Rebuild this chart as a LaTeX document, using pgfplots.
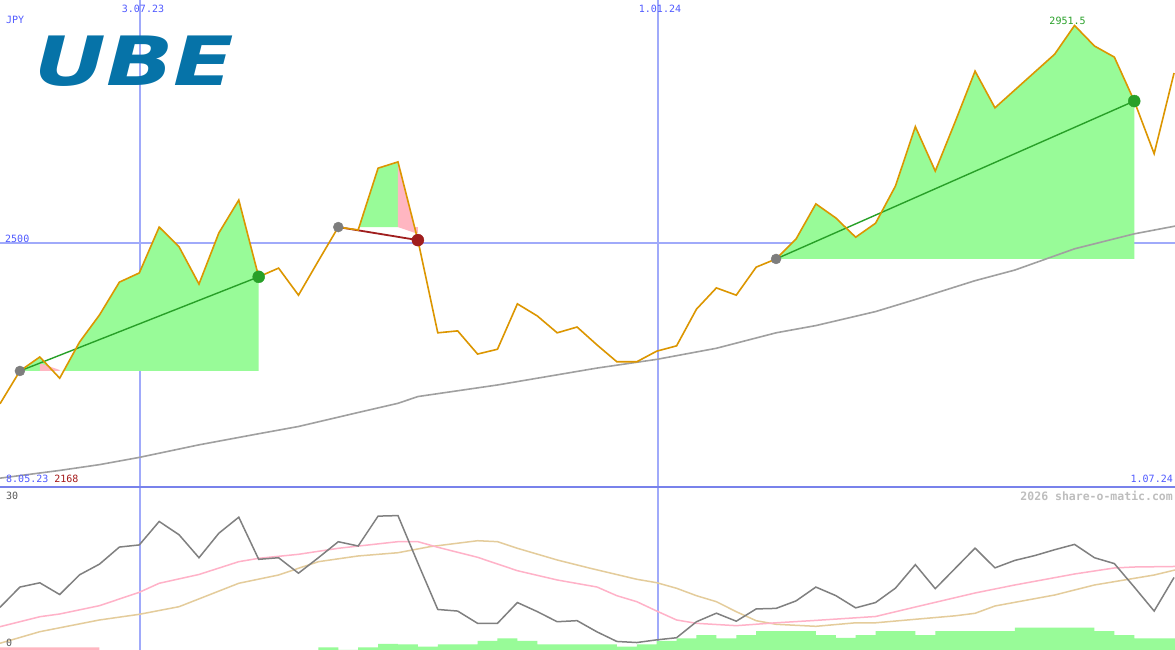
\documentclass[border=0pt]{standalone}
\usepackage{fontspec}
\setmonofont{DejaVu Sans Mono}
\newfontfamily\logofont{DejaVu Sans}
\usepackage{graphicx}
\usepackage{pgfplots}
\pgfplotsset{compat=1.18}

\definecolor{priceline}{RGB}{220,150,0}
\definecolor{maline}{RGB}{160,160,160}
\definecolor{winfill}{RGB}{152,251,152}
\definecolor{lossfill}{RGB}{255,182,193}
\definecolor{gridblue}{RGB}{160,170,250}
\definecolor{sepblue}{RGB}{120,130,235}
\definecolor{labelblue}{RGB}{80,90,255}
\definecolor{lowred}{RGB}{165,25,25}
\definecolor{tradegreen}{RGB}{40,160,40}
\definecolor{tradered}{RGB}{160,30,30}
\definecolor{dotgrey}{RGB}{125,125,125}
\definecolor{oscgrey}{RGB}{128,128,128}
\definecolor{oscpink}{RGB}{255,178,200}
\definecolor{osctan}{RGB}{228,204,155}
\definecolor{logoblue}{RGB}{6,115,168}
\definecolor{footgrey}{RGB}{190,190,190}

% weekly closes, week 0 = first point at the left edge
\pgfplotstableread{
w price
0 2168
1 2236
2 2265
3 2221
4 2296
5 2352
6 2420
7 2439
8 2534
9 2493
10 2416
11 2522
12 2590
13 2431
14 2449
15 2393
16 2464
17 2534
18 2528
19 2656
20 2669
21 2507
22 2315
23 2319
24 2271
25 2281
26 2375
27 2350
28 2315
29 2327
30 2290
31 2255
32 2255
33 2277
34 2288
35 2364
36 2408
37 2393
38 2451
39 2468
40 2509
41 2582
42 2553
43 2513
44 2542
45 2619
46 2742
47 2650
48 2752
49 2857
50 2781
51 2818
52 2855
53 2892
54 2951.5
55 2909
56 2886
57 2795
58 2686
59 2853
}\price

\pgfplotstableread{
w osc
0 8.0
1 11.8
2 12.6
3 10.4
4 14.1
5 16.1
6 19.3
7 19.7
8 24.1
9 21.6
10 17.3
11 21.9
12 24.9
13 17.0
14 17.3
15 14.4
16 17.3
17 20.3
18 19.5
19 25.1
20 25.2
21 16.3
22 7.6
23 7.3
24 5.0
25 5.0
26 8.9
27 7.2
28 5.3
29 5.5
30 3.4
31 1.6
32 1.4
33 1.9
34 2.3
35 5.3
36 6.9
37 5.4
38 7.7
39 7.8
40 9.2
41 11.8
42 10.2
43 7.9
44 8.9
45 11.6
46 16.0
47 11.5
48 15.3
49 19.1
50 15.4
51 16.8
52 17.7
53 18.8
54 19.8
55 17.3
56 16.2
57 11.8
58 7.3
59 13.6
}\osc

\pgfplotsset{chart/.style={
  scale only axis, width=1175pt, anchor=south west,
  xmin=0, xmax=59.05,
  axis line style={draw=none}, tick style={draw=none},
  xtick={7.035,33.07}, xticklabels={}, ytick=\empty,
  xmajorgrids, x grid style={draw=gridblue, line width=1.5pt},
}}

\begin{document}
\begin{tikzpicture}[x=1pt,y=1pt]
\fill[white] (0,0) rectangle (1175,650);
% 2500 guide line of the price panel (drawn first, under the areas)
\draw[draw=gridblue, line width=2pt] (0,406.5) -- (1175,406.5);

% price panel
\begin{axis}[chart, at={(0pt,163pt)}, height=487pt,
  ymin=1995.7, ymax=3004.3]
  % trade areas
  \addplot[fill=winfill, draw=none] coordinates {
    (1,2236) (2,2265) (2.66,2236) (3.2,2236) (4,2296) (5,2352) (6,2420)
    (7,2439) (8,2534) (9,2493) (10,2416) (11,2522) (12,2590) (13,2431)
    (13,2236)} --cycle;
  \addplot[fill=lossfill, draw=none] coordinates {
    (2,2236) (2,2252) (3,2238) (3,2236)} --cycle;
  \addplot[fill=winfill, draw=none] coordinates {
    (18.05,2534) (19,2656) (20,2669) (20,2534)} --cycle;
  \addplot[fill=lossfill, draw=none] coordinates {
    (20,2669) (20.83,2534) (21,2534) (21,2522) (20.85,2522) (20,2534)} --cycle;
  \addplot[fill=winfill, draw=none] coordinates {
    (39,2468) (40,2509) (41,2582) (42,2553) (43,2513) (44,2542) (45,2619)
    (46,2742) (47,2650) (48,2752) (49,2857) (50,2781) (51,2818) (52,2855)
    (53,2892) (54,2951.5) (55,2909) (56,2886) (57,2795) (57,2468)} --cycle;
  % long moving average
  \addplot[maline, line width=1.6pt] coordinates {
    (0,2014) (3,2030) (5,2042) (7,2057) (10,2083) (13,2106) (15,2121)
    (18,2150) (20,2169) (21,2183) (25,2207) (28,2228) (30,2242) (33,2260)
    (36,2283) (39,2315) (41,2330) (44,2359) (46,2384) (49,2423) (51,2445)
    (54,2489) (57,2520) (59.05,2536)};
  % trade lines
  \addplot[tradegreen, line width=1.4pt] coordinates {(1,2236) (13,2431)};
  \addplot[tradered, line width=1.8pt] coordinates {(17,2534) (21,2507)};
  \addplot[tradegreen, line width=1.4pt] coordinates {(39,2468) (57,2795)};
  % price
  \addplot[priceline, line width=1.6pt] table[x=w, y=price] {\price};
  % signal dots
  \addplot[only marks, mark=*, mark size=5pt, dotgrey] coordinates {
    (1,2236) (17,2534) (39,2468)};
  \addplot[only marks, mark=*, mark size=6pt, tradegreen] coordinates {
    (13,2431) (57,2795)};
  \addplot[only marks, mark=*, mark size=6pt, tradered] coordinates {(21,2507)};
  \coordinate (peak) at (axis cs:54,2951.5);
\end{axis}

% indicator panel
\begin{axis}[chart, at={(0pt,0pt)}, height=163pt,
  ymin=0, ymax=30.5625]
  \addplot[const plot, fill=lossfill, draw=none] coordinates {
    (0,0.47) (5,0.47)} \closedcycle;
  \addplot[const plot, fill=winfill, draw=none] coordinates {
    (16,0.51) (17,0) (18,0.51) (19,1.13) (20,1.07) (21,0.62) (22,1.07)
    (23,1.07) (24,1.69) (25,2.19) (26,1.69) (27,1.07) (28,1.07) (29,1.07)
    (30,1.07) (31,0.62) (32,1.07) (33,1.69) (34,2.19) (35,2.81) (36,2.19)
    (37,2.81) (38,3.56) (39,3.56) (40,3.56) (41,2.81) (42,2.25) (43,2.81)
    (44,3.56) (45,3.56) (46,2.81) (47,3.56) (48,3.56) (49,3.56) (50,3.56)
    (51,4.18) (52,4.18) (53,4.18) (54,4.18) (55,3.56) (56,2.81) (57,2.19)
    (58,2.19) (59.05,2.19)} \closedcycle;
  \addplot[osctan, line width=1.5pt] coordinates {
    (0,1.26) (2,3.43) (5,5.63) (7,6.69) (9,8.12) (12,12.51) (14,14.06)
    (15,15.32) (16,16.56) (18,17.63) (20,18.24) (21.6,19.37) (24,20.49)
    (25,20.31) (26,19.07) (28,16.88) (29.6,15.38) (32,13.26) (33,12.62)
    (34,11.57) (35,10.18) (36,9.06) (37,7.18) (38,5.49) (39,4.82) (41,4.44)
    (43,5.1) (44,5.1) (46,5.76) (48,6.41) (49,6.88) (50,8.25) (53,10.31)
    (55,12.19) (58,14.06) (59.05,15.0)};
  \addplot[oscpink, line width=1.5pt] coordinates {
    (0,4.37) (2,6.24) (3,6.75) (5,8.31) (7,10.82) (8,12.51) (10,14.16)
    (12,16.56) (13,17.19) (15,17.94) (17,19.07) (20,20.31) (21,20.31)
    (22,19.26) (24,17.38) (26,14.87) (28,13.13) (30,11.81) (31,10.18)
    (32,9.06) (33,7.31) (34,5.63) (35,5.0) (37,4.56) (39,5.1) (41,5.55)
    (44,6.28) (46,8.06) (49,10.69) (51,12.19) (54,14.25) (56,15.38)
    (57,15.56) (59.05,15.66)};
  \addplot[oscgrey, line width=1.5pt] table[x=w, y=osc] {\osc};
\end{axis}

\draw[sepblue, line width=2pt] (0,163) -- (1175,163);

% labels
\begin{scope}[every node/.style={inner sep=0pt, font=\ttfamily\fontsize{10}{12}\selectfont}]
\node[anchor=west, text=labelblue] at (6,630) {JPY};
\node[text=labelblue] at (143,641) {3.07.23};
\node[text=labelblue] at (660,641) {1.01.24};
\node[anchor=west, text=labelblue] at (5,411.5) {2500};
\node[anchor=west] at (6,171) {\textcolor{labelblue}{8.05.23} \textcolor{lowred}{2168}};
\node[anchor=east, text=labelblue] at (1173,171) {1.07.24};
\node[anchor=base, text=tradegreen, xshift=-7pt, yshift=1pt] at (peak) {2951.5};
\node[anchor=west, text=black!65] at (6,154) {30};
\node[anchor=west, text=black!65] at (6,7.5) {0};
\node[anchor=east, text=footgrey, font=\ttfamily\bfseries\fontsize{11.5}{13}\selectfont] at (1173,154) {2026 share-o-matic.com};
\end{scope}
\node[inner sep=0pt, text=logoblue] at (134.5,588.5)
  {\scalebox{1.3}[1]{\logofont\bfseries\itshape\fontsize{68}{76}\selectfont UBE}};

\pgfresetboundingbox
\path[use as bounding box] (0,0) rectangle (1175,650);
\end{tikzpicture}
\end{document}
